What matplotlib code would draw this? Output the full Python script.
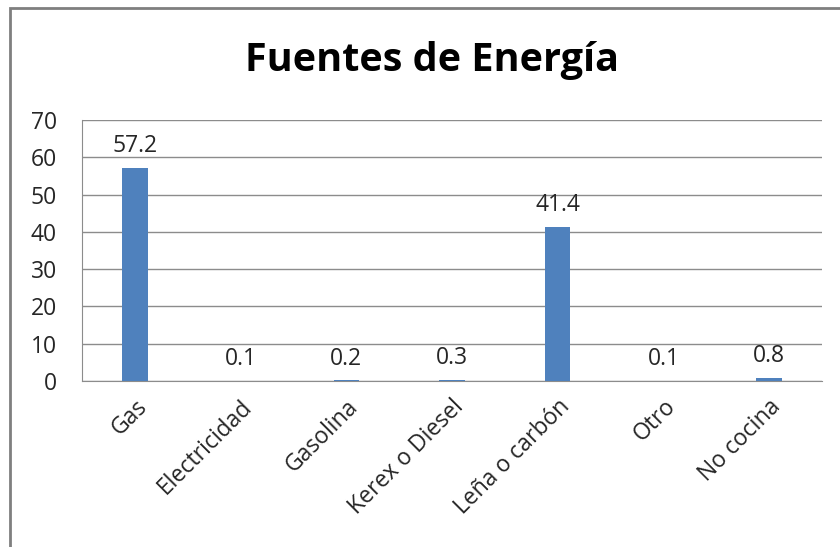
import matplotlib.pyplot as plt
from matplotlib.patches import Rectangle

# fuentes de energia para cocinar (%)
categorias = ["Gas", "Electricidad", "Gasolina", "Kerex o Diesel", "Leña o carbón", "Otro", "No cocina"]
porcentajes = [57.2, 0.1, 0.2, 0.3, 41.4, 0.1, 0.8]
etiquetas = ["57.2", "0.1", "0.2", "0.3", "41.4", "0.1", "0.8"]
ticks_y = [0, 10, 20, 30, 40, 50, 60, 70]

plt.rcParams['font.family'] = ['Open Sans', 'DejaVu Sans']

fig = plt.figure(figsize=(8.4, 5.47), dpi=100)
ax = fig.add_axes([0.0976, 0.3035, 0.881, 0.477])

x = range(len(categorias))
bars = ax.bar(x, porcentajes, width=0.24, color='#4F81BD', zorder=3)

for b, t in zip(bars, etiquetas):
    ax.annotate(t, (b.get_x() + b.get_width() / 2, b.get_height()),
                xytext=(0, 7), textcoords='offset points',
                ha='center', va='bottom', fontsize=16.5, color='#262626')

ax.set_xlim(-0.5, len(categorias) - 0.5)
ax.set_ylim(0, 70)
ax.set_yticks(ticks_y)
ax.yaxis.grid(True, color='#8c8c8c', linewidth=1, zorder=0)
ax.set_xticks(list(x))
ax.set_xticklabels(categorias, rotation=45, ha='right', rotation_mode='anchor',
                   fontsize=16.5, color='#262626')
ax.tick_params(axis='both', length=0, labelsize=16.5, colors='#262626')
ax.tick_params(axis='x', pad=10)
ax.tick_params(axis='y', pad=18)

for s in ['top', 'right']:
    ax.spines[s].set_visible(False)
ax.spines['left'].set_color('#8c8c8c')
ax.spines['bottom'].set_color('#8c8c8c')

fig.text(0.514, 0.89, "Fuentes de Energía", ha='center', va='center',
         fontsize=28.5, fontweight='bold', color='black')

# marco del grafico
fig.patches.append(Rectangle((10 / 840, -0.1), 1.2, 1 - 8 / 547 + 0.1,
                             transform=fig.transFigure, fill=False,
                             edgecolor='#7f7f7f', linewidth=2))

fig.savefig('out.png', dpi=100)
